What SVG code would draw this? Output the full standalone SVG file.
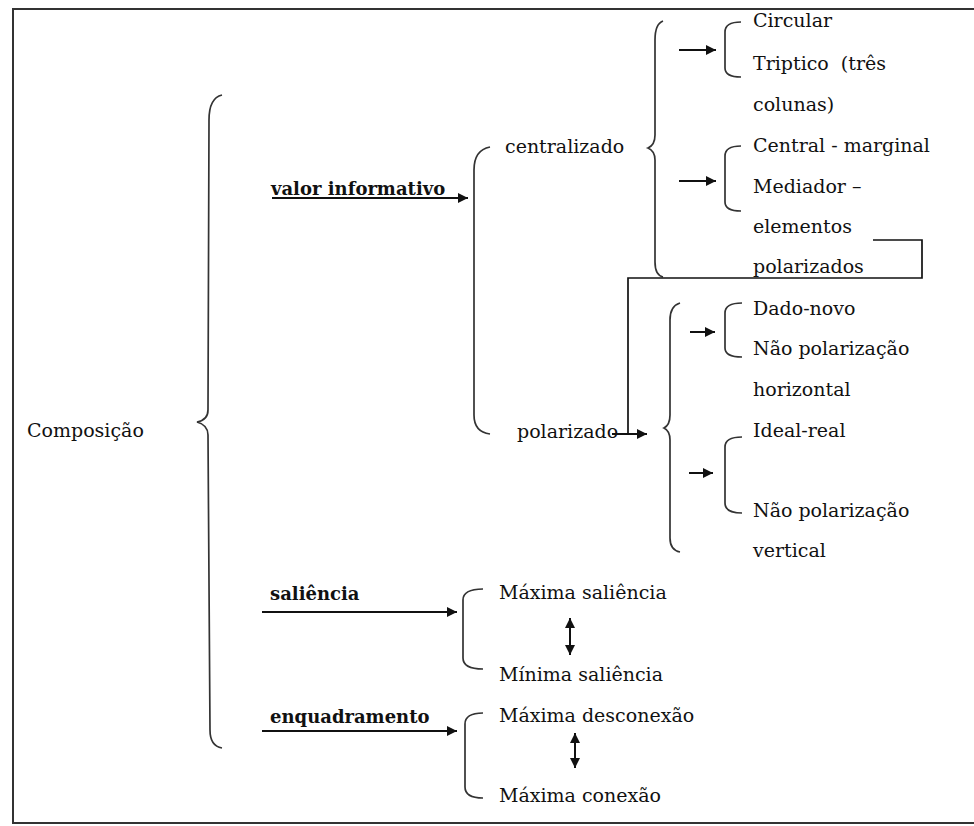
<svg xmlns="http://www.w3.org/2000/svg" width="974" height="826" viewBox="0 0 974 826">
<defs>
<style>
.t{font-family:"DejaVu Serif","Liberation Serif",serif;font-size:19px;fill:#111;white-space:pre}
.b{font-family:"DejaVu Serif","Liberation Serif",serif;font-size:18px;font-weight:bold;fill:#111}
.br{fill:none;stroke:#333;stroke-width:1.7}
.ln{fill:none;stroke:#111;stroke-width:1.7}
.ar{fill:none;stroke:#111;stroke-width:2;marker-end:url(#ah)}
.da{fill:none;stroke:#111;stroke-width:2;marker-end:url(#ah);marker-start:url(#ah)}
</style>
<marker id="ah" viewBox="0 0 10 10" refX="10" refY="5" markerWidth="12" markerHeight="10" markerUnits="userSpaceOnUse" orient="auto-start-reverse">
<path d="M0,0 L10,5 L0,10 z" fill="#111"/>
</marker>
</defs>
<rect width="974" height="826" fill="#fff"/>
<g id="frame" fill="none" stroke="#333" stroke-width="2">
<path d="M974,9 L13,9 L13,823 L974,823"/>
</g>
<g id="braces">
<path class="br" d="M222,95 Q209,98 209,120 L208,410 Q208,420 197,422 Q208,425 208,435 L210,730 Q210,746 222,748"/>
<path class="br" d="M490,147 Q474,150 474,170 L474,415 Q474,432 490,434"/>
<path class="br" d="M663,21 Q655,24 655,40 L655,135 Q655,145 648,148 Q655,151 655,160 L655,262 Q655,275 663,277"/>
<path class="br" d="M680,303 Q670,306 670,320 L670,415 Q670,425 664,428 Q670,431 670,440 L670,538 Q670,550 680,552"/>
<path class="br" d="M741,22 Q725,22 725,32 L725,68 Q725,77 741,77"/>
<path class="br" d="M741,146 Q725,146 725,156 L725,202 Q725,211 741,211"/>
<path class="br" d="M742,303 Q725,303 725,313 L725,348 Q725,357 742,357"/>
<path class="br" d="M742,437 Q725,437 725,447 L725,503 Q725,513 742,513"/>
<path class="br" d="M483,589 Q463,589 463,600 L463,658 Q463,669 483,669"/>
<path class="br" d="M483,713 Q465,713 465,724 L465,787 Q465,798 483,798"/>
</g>
<g id="connectors">
<path class="ar" d="M272,198 L468,198"/>
<path class="ar" d="M679,50 L716,50"/>
<path class="ar" d="M679,181 L716,181"/>
<path class="ar" d="M690,332 L715,332"/>
<path class="ar" d="M689,473 L713,473"/>
<path class="ar" d="M612,434 L647,434"/>
<path class="ar" d="M262,612 L457,612"/>
<path class="ar" d="M262,731 L457,731"/>
<path class="da" d="M570,618 L570,655"/>
<path class="da" d="M575,733 L575,768"/>
<path class="ln" d="M873,240 L922,240 L922,278 L628,278 L628,434"/>
</g>
<g id="composicao"><text class="t" x="27" y="437">Composição</text></g>
<g id="valor-informativo"><text class="b" x="271" y="195">valor informativo</text></g>
<g id="saliencia"><text class="b" x="270" y="600">saliência</text></g>
<g id="enquadramento"><text class="b" x="270" y="723">enquadramento</text></g>
<g id="centralizado"><text class="t" x="505" y="153">centralizado</text></g>
<g id="polarizado"><text class="t" x="517" y="438">polarizado</text></g>
<g id="circular"><text class="t" x="753" y="27">Circular</text></g>
<g id="triptico"><text class="t" x="753" y="70">Triptico  (três</text><text class="t" x="753" y="111">colunas)</text></g>
<g id="central-marginal"><text class="t" x="753" y="152">Central - marginal</text></g>
<g id="mediador"><text class="t" x="753" y="193">Mediador –</text><text class="t" x="753" y="233">elementos</text><text class="t" x="753" y="273">polarizados</text></g>
<g id="dado-novo"><text class="t" x="753" y="315">Dado-novo</text></g>
<g id="nao-pol-h"><text class="t" x="753" y="355">Não polarização</text><text class="t" x="753" y="396">horizontal</text></g>
<g id="ideal-real"><text class="t" x="753" y="437">Ideal-real</text></g>
<g id="nao-pol-v"><text class="t" x="753" y="517">Não polarização</text><text class="t" x="753" y="557">vertical</text></g>
<g id="max-saliencia"><text class="t" x="499" y="599">Máxima saliência</text></g>
<g id="min-saliencia"><text class="t" x="499" y="681">Mínima saliência</text></g>
<g id="max-desconexao"><text class="t" x="499" y="722">Máxima desconexão</text></g>
<g id="max-conexao"><text class="t" x="499" y="802">Máxima conexão</text></g>
</svg>
